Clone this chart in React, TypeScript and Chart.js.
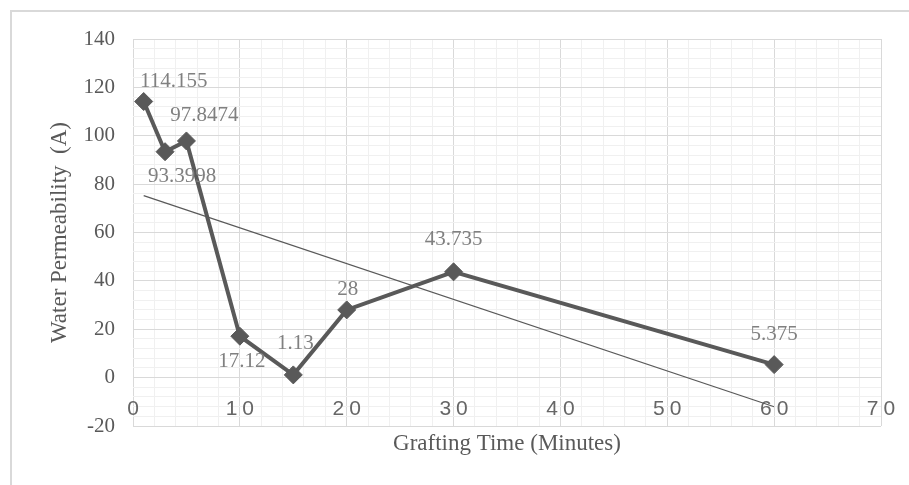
import { useEffect, useRef } from 'react';
import { Chart, registerables } from 'chart.js';

Chart.register(...registerables);

// ---- data ----
const graftingTime = [1, 3, 5, 10, 15, 20, 30, 60];
const permeability = [114.155, 93.3998, 97.8474, 17.12, 1.13, 28, 43.735, 5.375];
const pointLabels = ['114.155', '93.3998', '97.8474', '17.12', '1.13', '28', '43.735', '5.375'];
const trendTime = [1, 60];
const trendValue = [75.25, -12.04];
const xTickValues = [0, 10, 20, 30, 40, 50, 60, 70];
const yTitle = 'Water Permeability  (A)';
const xTitle = 'Grafting Time (Minutes)';

// label placement (pixel offsets from each marker)
const labelOffsets: [number, number][] = [
  [30, -20], [17, 25], [18, -25], [2, 25], [2, -31], [1, -20], [0, -32], [0, -30],
];

const SERIF = "'Liberation Serif', 'Times New Roman', serif";
const SANS = "'Liberation Sans', Arial, sans-serif";
const MAJOR = '#d9d9d9';
const MINOR = '#f0f0f0';

const decorPlugin = {
  id: 'decor',
  beforeDraw(chart: any) {
    const ctx = chart.ctx;
    ctx.save();
    ctx.fillStyle = '#ffffff';
    ctx.fillRect(0, 0, chart.width, chart.height);
    ctx.strokeStyle = '#d9d9d9';
    ctx.lineWidth = 2;
    ctx.beginPath();
    ctx.moveTo(11, chart.height);
    ctx.lineTo(11, 11);
    ctx.lineTo(chart.width, 11);
    ctx.stroke();
    ctx.restore();
  },
  beforeDatasetsDraw(chart: any) {
    const ctx = chart.ctx;
    const xs = chart.scales.x;
    const ys = chart.scales.y;
    const y0 = ys.getPixelForValue(0) + 32;
    ctx.save();
    ctx.font = `21px ${SANS}`;
    ctx.fillStyle = '#666666';
    ctx.textBaseline = 'middle';
    ctx.textAlign = 'left';
    const gap = 5;
    xTickValues.forEach((v) => {
      const s = String(v);
      const widths = s.split('').map((c) => ctx.measureText(c).width);
      const total = widths.reduce((a, b) => a + b, 0) + gap * (s.length - 1);
      let x = xs.getPixelForValue(v) - total / 2;
      s.split('').forEach((c, i) => {
        ctx.fillText(c, x, y0);
        x += widths[i] + gap;
      });
    });
    ctx.restore();
  },
  afterDatasetsDraw(chart: any) {
    const ctx = chart.ctx;
    const meta = chart.getDatasetMeta(0);
    ctx.save();
    ctx.font = `21px ${SERIF}`;
    ctx.fillStyle = '#808080';
    ctx.textAlign = 'center';
    ctx.textBaseline = 'middle';
    meta.data.forEach((pt: any, i: number) => {
      const [dx, dy] = labelOffsets[i];
      ctx.fillText(pointLabels[i], pt.x + dx, pt.y + dy);
    });
    ctx.restore();
  },
};

export default function App() {
  const ref = useRef<HTMLCanvasElement>(null);
  useEffect(() => {
    if (!ref.current) return;
    const chart = new Chart(ref.current, {
      type: 'scatter',
      data: {
        datasets: [
          {
            data: graftingTime.map((x, i) => ({ x, y: permeability[i] })),
            showLine: true,
            borderColor: '#595959',
            backgroundColor: '#595959',
            borderWidth: 4,
            pointStyle: 'rectRot',
            pointRadius: 9,
            pointBorderWidth: 1,
            order: 0,
          },
          {
            data: trendTime.map((x, i) => ({ x, y: trendValue[i] })),
            showLine: true,
            borderColor: '#595959',
            borderWidth: 1.2,
            pointRadius: 0,
            order: 1,
          },
        ],
      },
      options: {
        animation: false,
        responsive: false,
        layout: { padding: { top: 39, right: 28, bottom: 0, left: 0 } },
        plugins: { legend: { display: false }, tooltip: { enabled: false } },
        scales: {
          x: {
            type: 'linear',
            min: 0,
            max: 70,
            ticks: { display: false, stepSize: 2, maxTicksLimit: 1000 },
            grid: {
              drawTicks: false,
              color: (c: any) => (c.tick && c.tick.value % 10 === 0 ? MAJOR : MINOR),
              lineWidth: 1,
            },
            border: { display: false },
            title: {
              display: true,
              text: xTitle,
              font: { family: SERIF, size: 23 },
              color: '#595959',
              padding: { top: 0, bottom: 27 },
            },
            afterFit: (s: any) => {
              s.height = 59;
            },
          },
          y: {
            type: 'linear',
            min: -20,
            max: 140,
            ticks: {
              stepSize: 4,
              maxTicksLimit: 1000,
              autoSkip: false,
              padding: 18,
              color: '#595959',
              font: { family: SERIF, size: 21 },
              callback: (v: any) => (Number(v) % 20 === 0 ? String(v) : ''),
            },
            grid: {
              drawTicks: false,
              color: (c: any) => (c.tick && c.tick.value % 20 === 0 ? MAJOR : MINOR),
              lineWidth: 1,
            },
            border: { display: false },
            title: {
              display: true,
              text: yTitle,
              font: { family: SERIF, size: 23 },
              color: '#595959',
              padding: { top: 46, bottom: 0 },
            },
            afterFit: (s: any) => {
              s.width = 133;
            },
          },
        },
      },
      plugins: [decorPlugin],
    });
    return () => chart.destroy();
  }, []);
  return (
    <div style={{ position: 'absolute', left: 0, top: 0, width: 909, height: 485 }}>
      <canvas ref={ref} width={909} height={485} />
    </div>
  );
}
